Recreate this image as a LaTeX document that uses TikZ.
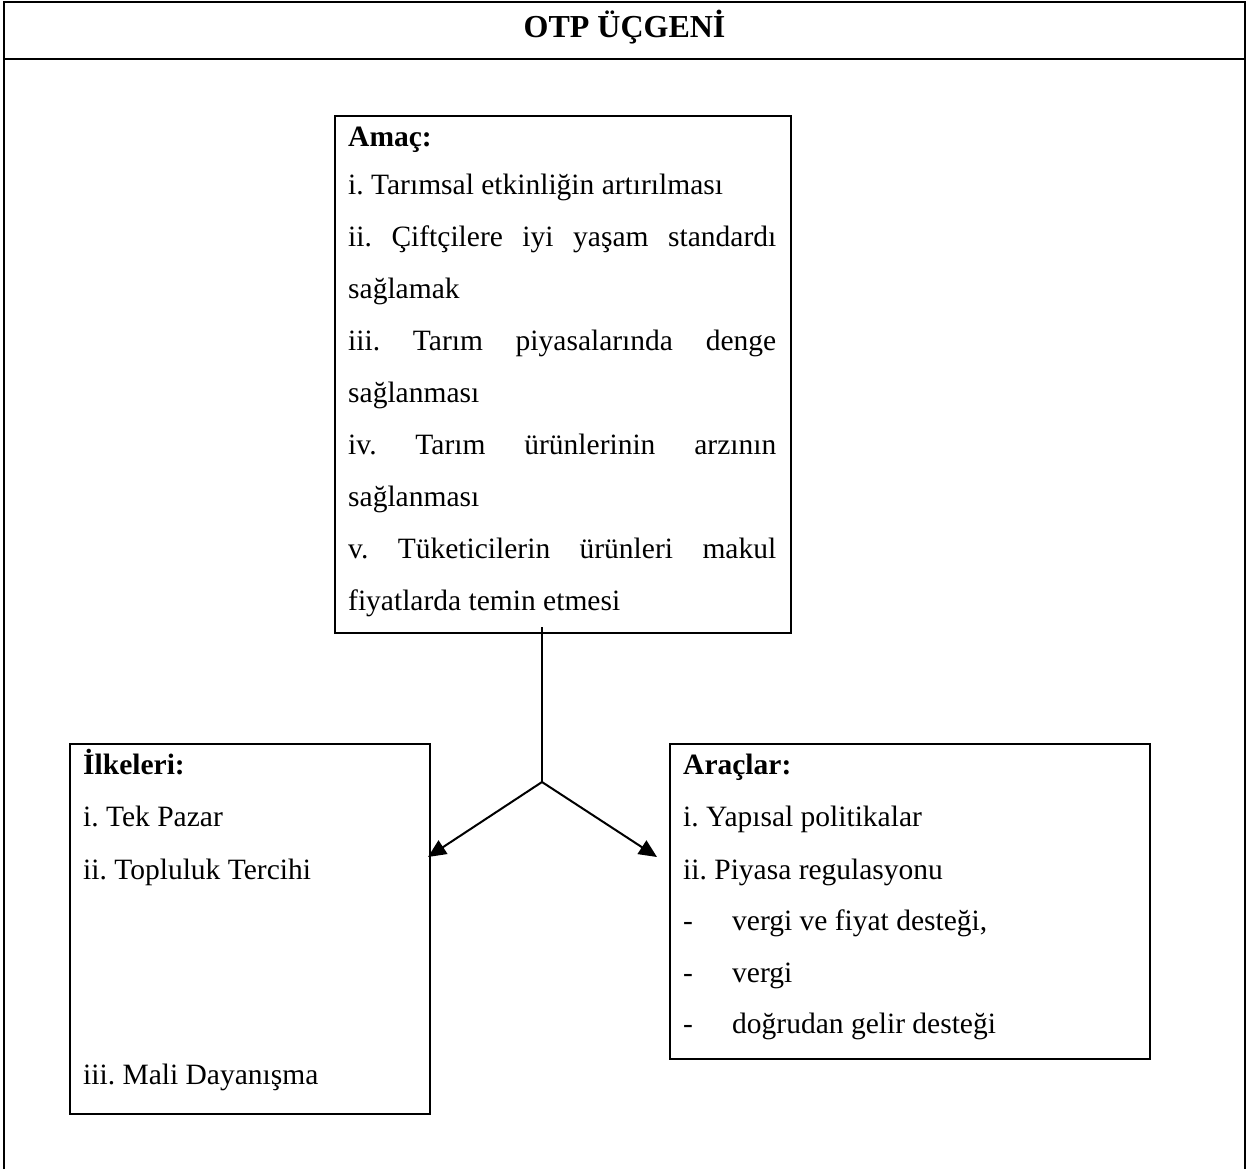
\documentclass[tikz,border=0pt]{standalone}
\usepackage{fontspec}
\setmainfont{Liberation Serif}
\usetikzlibrary{arrows.meta}
\frenchspacing
\tikzset{
  box/.style={draw, line width=2pt, inner sep=0pt, anchor=north west},
  txt/.style={anchor=base west, inner sep=0pt, font=\fontsize{29.5}{31}\selectfont},
  hdr/.style={anchor=base west, inner sep=0pt, font=\bfseries\fontsize{29.5}{31}\selectfont},
  frameline/.style={line width=2.5pt},
  link/.style={line width=2pt},
  arr/.style={line width=2pt, -{Triangle[length=18pt,width=16pt]}},
}
\newcommand{\jline}[1]{\makebox[428pt][l]{#1}}
\begin{document}
\begin{tikzpicture}[x=1pt,y=-1pt]
\useasboundingbox (0,0) rectangle (1257,1169);
% outer frame
\draw[frameline] (4,1169) -- (4,2) -- (1245,2) -- (1245,1169);
\draw[frameline] (4,59) -- (1245,59);
\node[font=\bfseries\fontsize{32}{32}\selectfont, anchor=base, inner sep=0pt] (title) at (624.5,38) {OTP ÜÇGENİ};

% Amac box
\node[box, minimum width=456pt, minimum height=517pt] (amac) at (334,115) {};
\node[hdr] (a0) at (348,147) {Amaç:};
\node[txt] (a1) at (348,194.3) {i. Tarımsal etkinliğin artırılması};
\node[txt] (a2) at (348,246.4) {\jline{ii.\hfill Çiftçilere\hfill iyi\hfill yaşam\hfill standardı}};
\node[txt] (a3) at (348,298.4) {sağlamak};
\node[txt] (a4) at (348,350.5) {\jline{iii.\hfill Tarım\hfill piyasalarında\hfill denge}};
\node[txt] (a5) at (348,402.5) {sağlanması};
\node[txt] (a6) at (348,454.6) {\jline{iv.\hfill Tarım\hfill ürünlerinin\hfill arzının}};
\node[txt] (a7) at (348,506.6) {sağlanması};
\node[txt] (a8) at (348,558.7) {\jline{v.\hfill Tüketicilerin\hfill ürünleri\hfill makul}};
\node[txt] (a9) at (348,610.7) {fiyatlarda temin etmesi};

% Ilkeleri box
\node[box, minimum width=360pt, minimum height=370pt] (ilke) at (69,743) {};
\node[hdr] (l0) at (83,774) {İlkeleri:};
\node[txt] (l1) at (83,826) {i. Tek Pazar};
\node[txt] (l2) at (83,879) {ii. Topluluk Tercihi};
\node[txt] (l3) at (83,1084) {iii. Mali Dayanışma};

% Araclar box
\node[box, minimum width=480pt, minimum height=315pt] (arac) at (669,743) {};
\node[hdr] (r0) at (683,774) {Araçlar:};
\node[txt] (r1) at (683,826) {i. Yapısal politikalar};
\node[txt] (r2) at (683,879) {ii. Piyasa regulasyonu};
\node[txt] (r3d) at (683,930) {-};
\node[txt] (r3) at (732,930) {vergi ve fiyat desteği,};
\node[txt] (r4d) at (683,982) {-};
\node[txt] (r4) at (732,982) {vergi};
\node[txt] (r5d) at (683,1033) {-};
\node[txt] (r5) at (732,1033) {doğrudan gelir desteği};

% connectors
\coordinate (stem) at (542,627);
\coordinate (split) at (542,782);
\coordinate (tipL) at (428,857);
\coordinate (tipR) at (657,857);
\draw[link] (stem) -- (split);
\draw[arr] (split) -- (tipL);
\draw[arr] (split) -- (tipR);
\end{tikzpicture}
\end{document}
